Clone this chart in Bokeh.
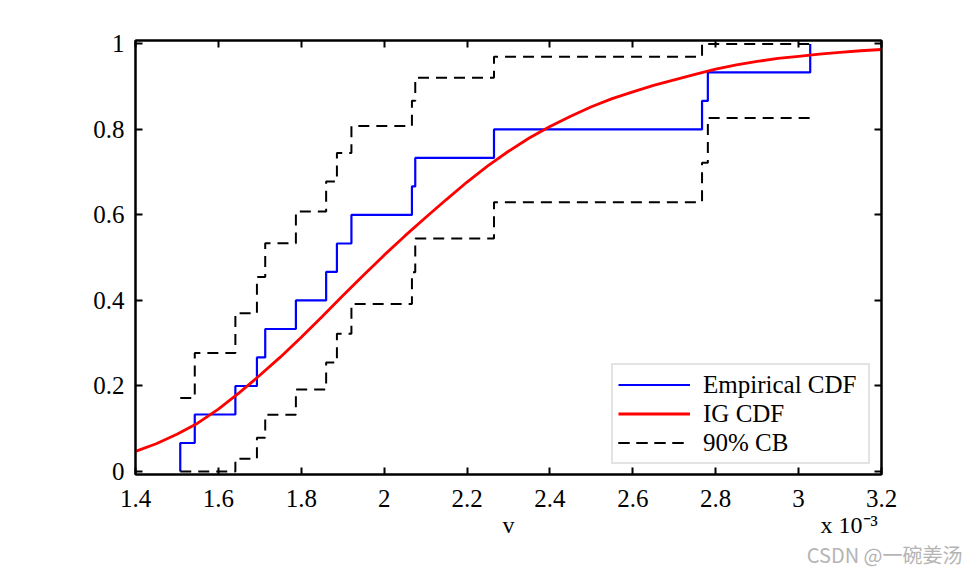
from bokeh.plotting import figure
from bokeh.models import Range1d, FixedTicker, LinearAxis, Legend, LegendItem, Title
from bokeh.embed import file_html
from bokeh.resources import INLINE

# sorted sample values of v (in units of 1e-3)
v_sorted = [1.508, 1.543, 1.641, 1.693, 1.713, 1.787, 1.860, 1.886, 1.921,
            2.067, 2.075, 2.265, 2.767, 2.781, 3.028]
# empirical CDF levels (start level 0, then one per sample)
ecdf_f = [0.0, 0.0667, 0.1333, 0.2, 0.2667, 0.3333, 0.4, 0.4667, 0.5333,
          0.6, 0.6667, 0.7333, 0.8, 0.8667, 0.9333, 1.0]
# 90% confidence bounds, one level per step segment
cb_lower = [0.0, 0.0, 0.030, 0.079, 0.133, 0.192, 0.255, 0.322, 0.392,
            0.466, 0.545, 0.630, 0.722, 0.827]
cb_upper = [0.172, 0.277, 0.370, 0.455, 0.534, 0.608, 0.678, 0.745, 0.808,
            0.867, 0.921, 0.970, 1.0, 1.0]
# fitted inverse Gaussian CDF
ig_v = [1.40, 1.45, 1.50, 1.55, 1.60, 1.65, 1.70, 1.75, 1.80, 1.85, 1.90,
        1.95, 2.00, 2.05, 2.10, 2.15, 2.20, 2.25, 2.30, 2.35, 2.40, 2.45,
        2.50, 2.55, 2.60, 2.65, 2.70, 2.75, 2.80, 2.85, 2.90, 2.95, 3.00,
        3.05, 3.10, 3.15, 3.20]
ig_cdf = [0.047, 0.065, 0.087, 0.113, 0.146, 0.184, 0.225, 0.268, 0.314,
          0.362, 0.411, 0.459, 0.506, 0.551, 0.594, 0.636, 0.677, 0.715,
          0.749, 0.780, 0.807, 0.831, 0.853, 0.872, 0.888, 0.903, 0.916,
          0.929, 0.941, 0.951, 0.959, 0.966, 0.971, 0.976, 0.980, 0.984,
          0.987]

x_ticks = [1.4, 1.6, 1.8, 2.0, 2.2, 2.4, 2.6, 2.8, 3.0, 3.2]
x_tick_labels = ["1.4", "1.6", "1.8", "2", "2.2", "2.4", "2.6", "2.8", "3", "3.2"]
y_ticks = [0.0, 0.2, 0.4, 0.6, 0.8, 1.0]
y_tick_labels = ["0", "0.2", "0.4", "0.6", "0.8", "1"]
x_label = "v"
x_multiplier = "x 10\u207b\u00b3"
watermark = "CSDN @一碗姜汤"

FONT = "Liberation Serif"

p = figure(width=975, height=575, output_backend="svg", toolbar_location=None,
           x_range=Range1d(1.4, 3.2), y_range=Range1d(-0.007, 1.008),
           min_border_left=135, min_border_right=94, min_border_top=40,
           min_border_bottom=101, background_fill_color="white",
           border_fill_color="white")
p.xgrid.visible = False
p.ygrid.visible = False
p.outline_line_color = "black"
p.outline_line_width = 2

xa = p.xaxis[0]
ya = p.yaxis[0]
xa.ticker = FixedTicker(ticks=x_ticks)
ya.ticker = FixedTicker(ticks=y_ticks)
xa.major_label_overrides = dict(zip(x_ticks, x_tick_labels))
ya.major_label_overrides = dict(zip(y_ticks, y_tick_labels))
for ax in (xa, ya):
    ax.major_label_text_font = FONT
    ax.major_label_text_font_size = "25px"
    ax.major_label_text_color = "black"
    ax.major_tick_in = 7
    ax.major_tick_out = 0
    ax.minor_tick_line_color = None
    ax.major_tick_line_width = 2
    ax.axis_line_width = 2
xa.major_label_standoff = 15
ya.major_label_standoff = 11

top = LinearAxis(ticker=FixedTicker(ticks=x_ticks))
right = LinearAxis(ticker=FixedTicker(ticks=y_ticks))
for ax in (top, right):
    ax.major_label_text_font_size = "1px"
    ax.major_label_text_color = None
    ax.major_tick_in = 7
    ax.major_tick_out = 0
    ax.minor_tick_line_color = None
    ax.major_tick_line_width = 2
    ax.axis_line_width = 2
    ax.major_label_standoff = 0
p.add_layout(top, "above")
p.add_layout(right, "right")

# empirical CDF stairs
ecdf_x = [v_sorted[0]] + v_sorted
r_emp = p.step(ecdf_x, ecdf_f, mode="after", line_color="#0000FF", line_width=2.2)

# confidence bounds stairs
lo_y = cb_lower + [cb_lower[-1]]
up_y = cb_upper + [cb_upper[-1]]
r_lo = p.step(v_sorted, lo_y, mode="after", line_color="black", line_width=2,
              line_dash="11 7")
r_up = p.step(v_sorted, up_y, mode="after", line_color="black", line_width=2,
              line_dash="11 7")

# IG CDF
r_ig = p.line(ig_v, ig_cdf, line_color="#FF0000", line_width=2.8)

legend = Legend(items=[LegendItem(label="Empirical CDF", renderers=[r_emp]),
                       LegendItem(label="IG CDF", renderers=[r_ig]),
                       LegendItem(label="90% CB", renderers=[r_lo, r_up])],
                location=(476, 10), margin=0, padding=5, spacing=0,
                glyph_width=72, glyph_height=29, label_height=29,
                label_width=160, label_standoff=13,
                label_text_font=FONT, label_text_font_size="25px",
                label_text_color="black",
                border_line_color="#c8c8c8", border_line_width=2,
                background_fill_color="white", background_fill_alpha=1)
p.add_layout(legend)

# x-axis label "v" (centred under the frame) and the x 10^-3 multiplier
gap = "\u2002" * 25 + "\u00a0"
p.add_layout(Title(text=x_label + gap + x_multiplier, align="left", offset=367,
                   text_font=FONT, text_font_size="24px",
                   text_font_style="normal", text_color="black",
                   standoff=0), "below")
p.add_layout(Title(text=watermark, align="right", offset=-81,
                   text_font="Noto Sans CJK SC", text_font_size="20px",
                   text_font_style="normal", text_color="#b4b4b4",
                   standoff=0), "below")

open("out.html", "w").write(file_html(p, INLINE))
